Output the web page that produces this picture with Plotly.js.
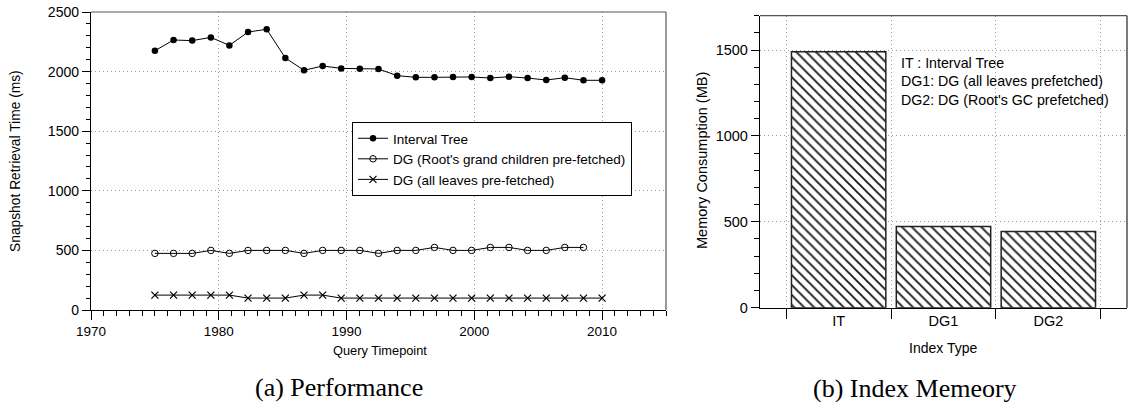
<!DOCTYPE html>
<html>
<head>
<meta charset="utf-8">
<script src="https://cdn.plot.ly/plotly-3.0.1.min.js"></script>
<style>
  html, body { margin: 0; padding: 0; background: #fff; }
  #chart { width: 1128px; height: 402px; }
</style>
</head>
<body>
<div id="chart"></div>
<script>
// Query timepoints (years) for the retrieval-time experiment
const timepoints = [1975.00, 1976.46, 1977.92, 1979.38, 1980.83, 1982.29, 1983.75, 1985.21,
  1986.67, 1988.13, 1989.58, 1991.04, 1992.50, 1993.96, 1995.42, 1996.88, 1998.33, 1999.79,
  2001.25, 2002.71, 2004.17, 2005.63, 2007.08, 2008.54, 2010.00];

// Snapshot retrieval time (ms)
const intervalTree = [2175, 2265, 2260, 2287, 2220, 2332, 2355, 2114, 2011, 2047, 2027, 2024,
  2022, 1966, 1952, 1952, 1955, 1955, 1946, 1957, 1946, 1929, 1949, 1927, 1927];
const dgGrandChildren = [475, 475, 475, 500, 475, 500, 500, 500, 475, 500, 500, 500, 475, 500,
  500, 525, 500, 500, 525, 525, 500, 500, 525, 525];
const dgAllLeaves = [125, 125, 125, 125, 125, 100, 100, 100, 125, 125, 100, 100, 100, 100, 100,
  100, 100, 100, 100, 100, 100, 100, 100, 100, 100];

const seriesNames = ['Interval Tree', "DG (Root's grand children pre-fetched)", 'DG (all leaves pre-fetched)'];

// Index memory footprint (MB)
const indexTypes = ['IT', 'DG1', 'DG2'];
const memoryMB = [1490, 473, 443];

const indexKey = ['IT : Interval Tree', 'DG1: DG (all leaves prefetched)', "DG2: DG (Root's GC prefetched)"];

const SANS = '"Liberation Sans", Arial, Helvetica, sans-serif';
const SERIF = '"Liberation Serif", "Times New Roman", serif';
const W = 1128, H = 402;
const px = v => v / W;
const py = v => 1 - v / H;

const lineStyle = { color: '#000', width: 1 };

const traces = [
  {
    x: timepoints, y: intervalTree, name: seriesNames[0], type: 'scatter', mode: 'lines+markers',
    line: lineStyle, marker: { symbol: 'circle', size: 6.5, color: '#000' },
    xaxis: 'x', yaxis: 'y'
  },
  {
    x: timepoints.slice(0, dgGrandChildren.length), y: dgGrandChildren, name: seriesNames[1],
    type: 'scatter', mode: 'lines+markers', line: lineStyle,
    marker: { symbol: 'circle-open', size: 6.5, color: '#000', line: { width: 1 } },
    xaxis: 'x', yaxis: 'y'
  },
  {
    x: timepoints, y: dgAllLeaves, name: seriesNames[2], type: 'scatter', mode: 'lines+markers',
    line: lineStyle, marker: { symbol: 'x-thin-open', size: 7, color: '#000', line: { width: 1.2, color: '#000' } },
    xaxis: 'x', yaxis: 'y'
  },
  {
    x: indexTypes, y: memoryMB, type: 'bar', showlegend: false,
    marker: {
      color: '#fff',
      line: { color: '#222', width: 1.5 },
      pattern: { shape: '\\', fgcolor: '#1a1a1a', bgcolor: '#fff', size: 7, solidity: 0.27 }
    },
    xaxis: 'x2', yaxis: 'y2'
  }
];

const gridStyle = { showgrid: true, gridcolor: '#999', gridwidth: 1, griddash: '1px,3px', zeroline: false };

// centred text helper for axis titles and captions
const label = (x, y, text, extra) => Object.assign({
  xref: 'paper', yref: 'paper', x: px(x), y: py(y), text: text,
  xanchor: 'center', yanchor: 'middle', showarrow: false
}, extra);

const layout = {
  width: W, height: H,
  margin: { l: 0, r: 0, t: 0, b: 0 },
  paper_bgcolor: '#fff', plot_bgcolor: '#fff',
  font: { family: SANS, color: '#000', size: 13.5 },
  showlegend: true,
  legend: {
    x: px(352), y: py(122), xanchor: 'left', yanchor: 'top',
    bgcolor: '#fff', bordercolor: '#000', borderwidth: 1,
    font: { family: SANS, size: 13.5, color: '#000' },
    itemwidth: 30, tracegroupgap: 0
  },
  bargap: 0.1,
  xaxis: Object.assign({}, gridStyle, {
    domain: [px(91), px(666)], range: [1970, 2015], anchor: 'y',
    tickmode: 'array', tickvals: [1970, 1980, 1990, 2000, 2010],
    ticks: 'outside', ticklen: 9, tickwidth: 1, tickcolor: '#000',
    showline: true, linecolor: '#000', linewidth: 1.2,
    minor: { dtick: 1, tick0: 1970, ticks: 'outside', ticklen: 5, tickcolor: '#000', tickwidth: 1, showgrid: false },
    tickfont: { size: 13.5 }
  }),
  yaxis: Object.assign({}, gridStyle, {
    domain: [py(310), py(12)], range: [0, 2500], anchor: 'x',
    tickvals: [0, 500, 1000, 1500, 2000, 2500], tickmode: 'array',
    ticks: 'outside', ticklen: 8, tickwidth: 1, tickcolor: '#000',
    showline: true, linecolor: '#000', linewidth: 1.2,
    minor: { dtick: 100, tick0: 0, ticks: 'outside', ticklen: 4, tickcolor: '#000', tickwidth: 1, showgrid: false },
    tickfont: { size: 14 }
  }),
  xaxis2: Object.assign({}, gridStyle, {
    domain: [px(760), px(1127)], range: [-0.75, 2.75], anchor: 'y2', type: 'category',
    tickson: 'boundaries', ticks: 'outside', ticklen: 10, tickwidth: 1, tickcolor: '#000',
    showline: true, linecolor: '#000', linewidth: 1.2,
    tickfont: { size: 14.5 }
  }),
  yaxis2: Object.assign({}, gridStyle, {
    domain: [py(307.7), py(15.7)], range: [0, 1700], anchor: 'x2',
    tickvals: [0, 500, 1000, 1500], tickmode: 'array',
    ticks: 'outside', ticklen: 8, tickwidth: 1, tickcolor: '#000',
    showline: true, linecolor: '#000', linewidth: 1.2,
    minor: { dtick: 100, tick0: 0, ticks: 'outside', ticklen: 5, tickcolor: '#000', tickwidth: 1, showgrid: false },
    tickfont: { size: 14.5 }
  }),
  shapes: [
    // frame: top and right edges of both panels
    { type: 'line', xref: 'x domain', yref: 'y domain', x0: 0, x1: 1, y0: 1, y1: 1, line: { color: '#555', width: 1.2 } },
    { type: 'line', xref: 'x domain', yref: 'y domain', x0: 1, x1: 1, y0: 0, y1: 1, line: { color: '#555', width: 1.2 } },
    { type: 'line', xref: 'x2 domain', yref: 'y2 domain', x0: 0, x1: 1, y0: 1, y1: 1, line: { color: '#555', width: 1.2 } },
    { type: 'line', xref: 'x2 domain', yref: 'y2 domain', x0: 1, x1: 1, y0: 0, y1: 1, line: { color: '#222', width: 1.2 } }
  ],
  annotations: [
    label(15, 161, 'Snapshot Retrieval Time (ms)', { textangle: -90, font: { size: 13.8 } }),
    label(380, 350, 'Query Timepoint', { font: { size: 12.8 } }),
    label(702, 161, 'Memory Consumption (MB)', { textangle: -90, font: { size: 14.5 } }),
    label(943, 348, 'Index Type', { font: { size: 14 } }),
    { xref: 'paper', yref: 'paper', x: px(899), y: py(53), xanchor: 'left', yanchor: 'top', align: 'left',
      text: indexKey.join('<br>'), showarrow: false, font: { size: 14.2 } },
    label(339, 387, '(a) Performance', { font: { family: SERIF, size: 26 } }),
    label(915, 388, '(b) Index Memeory', { font: { family: SERIF, size: 26 } })
  ]
};

Plotly.newPlot('chart', traces, layout, { staticPlot: true, displayModeBar: false });
</script>
</body>
</html>
